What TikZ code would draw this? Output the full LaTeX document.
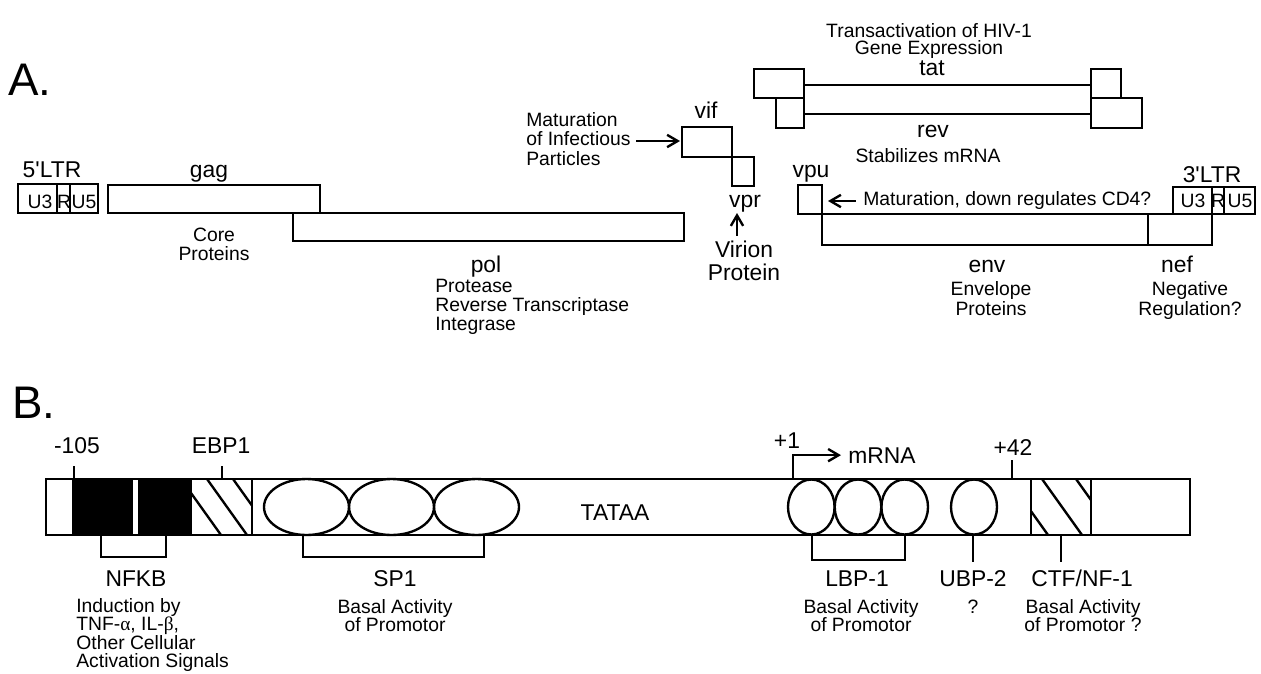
\documentclass[tikz,border=0pt]{standalone}
\usepackage{fontspec}
\setmainfont{Liberation Sans}
\newfontfamily\greekfont{Liberation Serif}
\usetikzlibrary{arrows.meta}

\tikzset{
  seg/.style={line width=1.35pt},
  arr/.style={line width=1.35pt, ->},
  big/.style={inner sep=0pt, font=\fontsize{13}{13}\selectfont},
  small/.style={inner sep=0pt, font=\fontsize{11}{10.8}\selectfont},
  panel/.style={inner sep=0pt, font=\fontsize{26}{26}\selectfont},
}

\begin{document}
\begin{tikzpicture}[x=0.02cm, y=-0.02cm, >={Straight Barb[length=6pt,width=7pt]}]
    \useasboundingbox (0,0) rectangle (1261,673);

    % ===== A. genome map =====
    \node[panel, anchor=base west] (panelA) at (8,95) {A.};

    % 5'LTR, split into U3 | R | U5
    \draw[seg] (18,184) rectangle (98,213);
    \draw[seg] (57,184) -- (57,213) (70,184) -- (70,213);
    \node[big, anchor=base] (ltrL) at (52,177) {5\textquotesingle LTR};
    \node[small, anchor=base] (ltrLu3) at (40,208) {U3};
    \node[small, anchor=base] (ltrLr) at (64,208) {R};
    \node[small, anchor=base] (ltrLu5) at (84,208) {U5};

    % gag and pol
    \draw[seg] (108,185) rectangle (320,213);
    \draw[seg] (293,213) rectangle (684,241);
    \node[big, anchor=base] (gag) at (209,177) {gag};
    \node[small, align=center, anchor=north] (gagtxt) at (214,228) {Core\\Proteins};
    \node[big, anchor=base] (pol) at (486,272) {pol};
    \node[small, align=left, anchor=north west] (poltxt) at (435,279)
        {Protease\\Reverse Transcriptase\\Integrase};

    % vif and vpr
    \draw[seg] (682,127) rectangle (732,157);
    \draw[seg] (732,157) rectangle (754,186);
    \coordinate (vifin) at (680,141);
    \coordinate (vprin) at (737,213);
    \node[big, anchor=base] (vif) at (706,118) {vif};
    \node[big, anchor=base] (vpr) at (745,207) {vpr};
    \node[small, align=left, anchor=north west, font=\fontsize{11}{11.1}\selectfont] (viftxt) at (526,112)
        {Maturation\\of Infectious\\Particles};
    \draw[arr, shorten <=3pt] (viftxt.east |- vifin) -- (vifin);
    \node[big, align=center, anchor=north] (vprtxt) at (744,241) {Virion\\Protein};
    \draw[arr, shorten <=3pt] (vprtxt.north -| vprin) -- (vprin);

    % tat and rev, two exons each
    \draw[seg] (754,69) rectangle (804,98);
    \draw[seg] (776,98) rectangle (804,128);
    \draw[seg] (1091,69) rectangle (1121,98);
    \draw[seg] (1091,98) rectangle (1142,128);
    \draw[seg] (804,85) -- (1091,85);
    \draw[seg] (804,114) -- (1091,114);
    \node[small, align=center, anchor=north, font=\fontsize{11}{10}\selectfont] (tattxt) at (929,23)
        {Transactivation of HIV-1\\Gene Expression};
    \node[big, anchor=base] (tat) at (932,75) {tat};
    \node[big, anchor=base] (rev) at (933,137) {rev};
    \node[small, anchor=base] (revtxt) at (928,162) {Stabilizes mRNA};

    % vpu
    \draw[seg] (798,185) rectangle (822,214);
    \node[big, anchor=base] (vpu) at (811,177) {vpu};
    \coordinate (vpuin) at (828,201);
    \node[small, anchor=base west] (vputxt) at (863,205) {Maturation, down regulates CD4?};
    \draw[arr, shorten <=4pt] (vputxt.west |- vpuin) -- (vpuin);

    % env and nef
    \draw[seg] (822,214) rectangle (1148,245);
    \draw[seg] (1148,214) rectangle (1212,245);
    \node[big, anchor=base] (env) at (987,272) {env};
    \node[small, align=center, anchor=north, font=\fontsize{11}{11.4}\selectfont] (envtxt) at (991,281)
        {Envelope\\Proteins};
    \node[big, anchor=base] (nef) at (1177,272) {nef};
    \node[small, align=center, anchor=north, font=\fontsize{11}{11.4}\selectfont] (neftxt) at (1190,281)
        {Negative\\Regulation?};

    % 3'LTR
    \draw[seg] (1173,187) rectangle (1255,214);
    \draw[seg] (1212,187) -- (1212,214) (1224,187) -- (1224,214);
    \node[big, anchor=base] (ltrR) at (1212,182) {3\textquotesingle LTR};
    \node[small, anchor=base] (ltrRu3) at (1193,207) {U3};
    \node[small, anchor=base] (ltrRr) at (1218,207) {R};
    \node[small, anchor=base] (ltrRu5) at (1240,207) {U5};

    % ===== B. LTR promoter =====
    \node[panel, anchor=base west] (panelB) at (12,418) {B.};

    % NFKB sites (black), EBP1 and CTF/NF-1 (hatched)
    \fill (73,479) rectangle (191,535);
    \fill[white] (133,479) rectangle (138,535);
    \begin{scope}
        \clip (191,479) rectangle (252,535);
        \foreach \x in {181,207,233}
            \draw[seg] (\x,479) -- ++(40,56);
    \end{scope}
    \begin{scope}
        \clip (1031,479) rectangle (1091,535);
        \foreach \x in {1008,1042,1076}
            \draw[seg] (\x,479) -- ++(40,56);
    \end{scope}
    \draw[seg] (46,479) rectangle (1190,535);
    \draw[seg] (73,479) -- (73,535) (191,479) -- (191,535) (252,479) -- (252,535)
        (1031,479) -- (1031,535) (1091,479) -- (1091,535);

    % SP1, LBP-1 and UBP-2 sites
    \foreach \x in {306.5,391.5,476.5}
        \draw[seg] (\x,507) ellipse [x radius=42.5, y radius=28];
    \foreach \x in {811.3,858,904.7}
        \draw[seg] (\x,507) ellipse [x radius=23.3, y radius=27.5];
    \draw[seg] (974,507) ellipse [x radius=23, y radius=27.5];

    % positions above the bar
    \node[big, anchor=base] (m105) at (77,453) {-105};
    \node[big, anchor=base] (ebp) at (221,453) {EBP1};
    \node[big, anchor=base] (p1) at (787,448) {+1};
    \node[big, anchor=base] (mrna) at (882,463) {mRNA};
    \node[big, anchor=base] (p42) at (1013,455) {+42};
    \node[big, anchor=base] (tata) at (615,520) {TATAA};
    \draw[seg] (74,466) -- (74,479);
    \draw[seg] (222,466) -- (222,479);
    \draw[seg] (1012,460) -- (1012,479);
    \coordinate (tss) at (793,479);
    \draw[arr, shorten >=4pt] (tss) |- (mrna.west);

    % factor brackets below the bar
    \draw[seg] (101,535) -- (101,557) -- (166,557) -- (166,535);
    \draw[seg] (303,535) -- (303,557) -- (484,557) -- (484,535);
    \draw[seg] (812,535) -- (812,560) -- (905,560) -- (905,535);
    \draw[seg] (973,535) -- (973,562);
    \draw[seg] (1061,535) -- (1061,562);

    \node[big, anchor=base] (nfkb) at (136,586) {NFKB};
    \node[big, anchor=base] (sp1) at (395,586) {SP1};
    \node[big, anchor=base] (lbp) at (857,586) {LBP-1};
    \node[big, anchor=base] (ubp) at (973,586) {UBP-2};
    \node[big, anchor=base] (ctf) at (1082,586) {CTF/NF-1};

    \node[small, align=left, anchor=north west, font=\fontsize{11}{10.5}\selectfont] (nfkbtxt) at (76,598)
        {Induction by\\TNF-{\greekfont α}, IL-{\greekfont β},\\Other Cellular\\Activation Signals};
    \node[small, align=center, anchor=north, font=\fontsize{11}{10.5}\selectfont] (sp1txt) at (395,599)
        {Basal Activity\\of Promotor};
    \node[small, align=center, anchor=north, font=\fontsize{11}{10.5}\selectfont] (lbptxt) at (861,599)
        {Basal Activity\\of Promotor};
    \node[small, anchor=base] (ubptxt) at (973,613) {?};
    \node[small, align=center, anchor=north, font=\fontsize{11}{10.5}\selectfont] (ctftxt) at (1083,599)
        {Basal Activity\\of Promotor ?};
\end{tikzpicture}
\end{document}
